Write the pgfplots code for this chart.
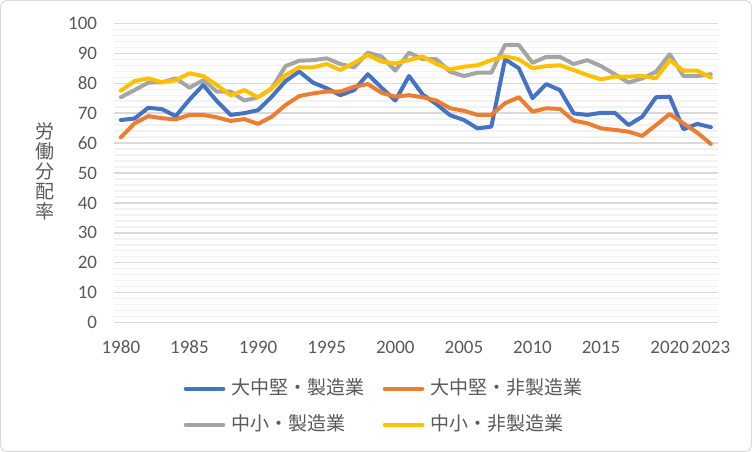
\documentclass[border=0pt]{standalone}
\usepackage{pgfplots}
\pgfplotsset{compat=1.18}
\usepackage{pgfplotstable}
\usepackage{fontspec}
\setmainfont{Carlito}
\newfontfamily\jp{Noto Sans CJK JP}

\definecolor{txt}{HTML}{595959}
\definecolor{frame}{HTML}{D9D9D9}
\definecolor{gmajor}{HTML}{D9D9D9}
\definecolor{gminor}{HTML}{F2F2F2}
\definecolor{sBlue}{HTML}{4472C4}
\definecolor{sOrange}{HTML}{ED7D31}
\definecolor{sGray}{HTML}{A5A5A5}
\definecolor{sYellow}{HTML}{FFC000}

% 労働分配率 (%), 規模・業種別
\pgfplotstableread{
year  lm    ln    sm    sn
1980  67.7  61.9  75.3  77.5
1981  68.2  66.6  77.7  80.7
1982  71.8  69.0  80.2  81.6
1983  71.3  68.3  80.3  80.3
1984  69.0  67.9  81.6  81.0
1985  74.5  69.4  78.5  83.3
1986  79.4  69.4  81.0  82.4
1987  74.0  68.6  77.2  79.4
1988  69.4  67.4  77.2  75.9
1989  70.0  68.0  74.2  77.7
1990  71.0  66.4  75.3  75.3
1991  75.5  68.8  78.3  78.3
1992  80.7  72.7  85.7  82.7
1993  83.9  75.7  87.5  85.3
1994  80.2  76.6  87.7  85.3
1995  78.3  77.2  88.3  86.4
1996  76.0  77.2  86.4  84.4
1997  77.7  78.8  85.3  86.8
1998  83.0  79.7  90.2  89.4
1999  78.5  76.8  88.9  87.2
2000  74.2  75.5  84.2  86.6
2001  82.4  76.0  90.2  87.7
2002  76.2  75.3  88.0  88.9
2003  73.0  74.2  88.0  86.4
2004  69.3  71.6  83.8  84.6
2005  67.7  70.8  82.4  85.5
2006  64.9  69.4  83.5  86.0
2007  65.5  69.4  83.5  87.7
2008  88.0  73.3  92.8  89.0
2009  85.0  75.3  92.8  88.0
2010  75.0  70.5  86.8  85.0
2011  79.7  71.6  88.8  85.7
2012  77.7  71.4  88.8  86.0
2013  69.9  67.5  86.4  84.4
2014  69.4  66.6  87.7  82.7
2015  70.1  64.9  85.7  81.3
2016  70.1  64.4  83.0  82.2
2017  66.0  63.8  80.2  82.2
2018  68.8  62.4  81.6  82.4
2019  75.3  66.0  83.8  81.6
2020  75.5  69.7  89.7  87.7
2021  64.6  66.6  82.4  84.2
2022  66.4  63.5  82.4  84.2
2023  65.3  59.7  83.0  81.9
}\ratio

\newcommand\lblsize{\fontsize{14.25pt}{17pt}\selectfont}

\begin{document}
\begin{tikzpicture}
\path[use as bounding box] (0,0) rectangle (564pt,339pt);
\draw[frame, line width=0.75pt, rounded corners=5pt]
  (0.375pt,0.375pt) rectangle (563.625pt,338.625pt);

\begin{axis}[
  scale only axis,
  width=452.8pt, height=224.5pt,
  at={(85.5pt,97pt)}, anchor=south west,
  xmin=1979.5, xmax=2023.5,
  ymin=0, ymax=100,
  xtick={1980,1985,1990,1995,2000,2005,2010,2015,2020,2023},
  ytick={0,10,20,30,40,50,60,70,80,90,100},
  minor y tick num=4,
  ymajorgrids, yminorgrids,
  major grid style={gmajor, line width=1pt},
  minor grid style={gminor, line width=1pt},
  axis line style={draw=none},
  tick style={draw=none},
  major tick length=0pt, minor tick length=0pt,
  /pgf/number format/assume math mode=true,
  /pgf/number format/1000 sep={},
  ticklabel style={font=\lblsize, text=txt},
  xticklabel style={anchor=base, inner sep=0pt, yshift=-22.95pt},
  yticklabel style={anchor=east, inner sep=0pt, xshift=-12.5pt},
  legend columns=2,
  legend cell align=left,
  legend image code/.code={\draw[#1, line width=3pt, line cap=round] (0pt,-0.9pt) -- (28.2pt,-0.9pt);},
  legend style={
    at={(0.1155,-0.1874)}, anchor=north west,
    draw=none, fill=none, inner sep=0pt, outer sep=0pt,
    nodes={inner sep=0pt, outer sep=0pt, text height=11.9pt, text depth=1.5pt,
           font=\jp\lblsize, text=txt},
    row sep=13.5pt,
    /tikz/every odd column/.append style={column sep=4.3pt},
    /tikz/every even column/.append style={column sep=14pt},
  },
  every axis plot/.append style={line width=3pt, line join=round, line cap=round, no markers},
]
\addplot[sBlue]   table[x=year, y=lm] {\ratio};
\addplot[sOrange] table[x=year, y=ln] {\ratio};
\addplot[sGray]   table[x=year, y=sm] {\ratio};
\addplot[sYellow] table[x=year, y=sn] {\ratio};
\legend{大中堅・製造業, 大中堅・非製造業, 中小・製造業, 中小・非製造業}
\end{axis}

\node[font=\jp\fontsize{14.25pt}{15pt}\selectfont, text=txt, align=center, inner sep=0pt]
  at (33.75pt,210.2pt) {労\\働\\分\\配\\率};
\end{tikzpicture}
\end{document}
